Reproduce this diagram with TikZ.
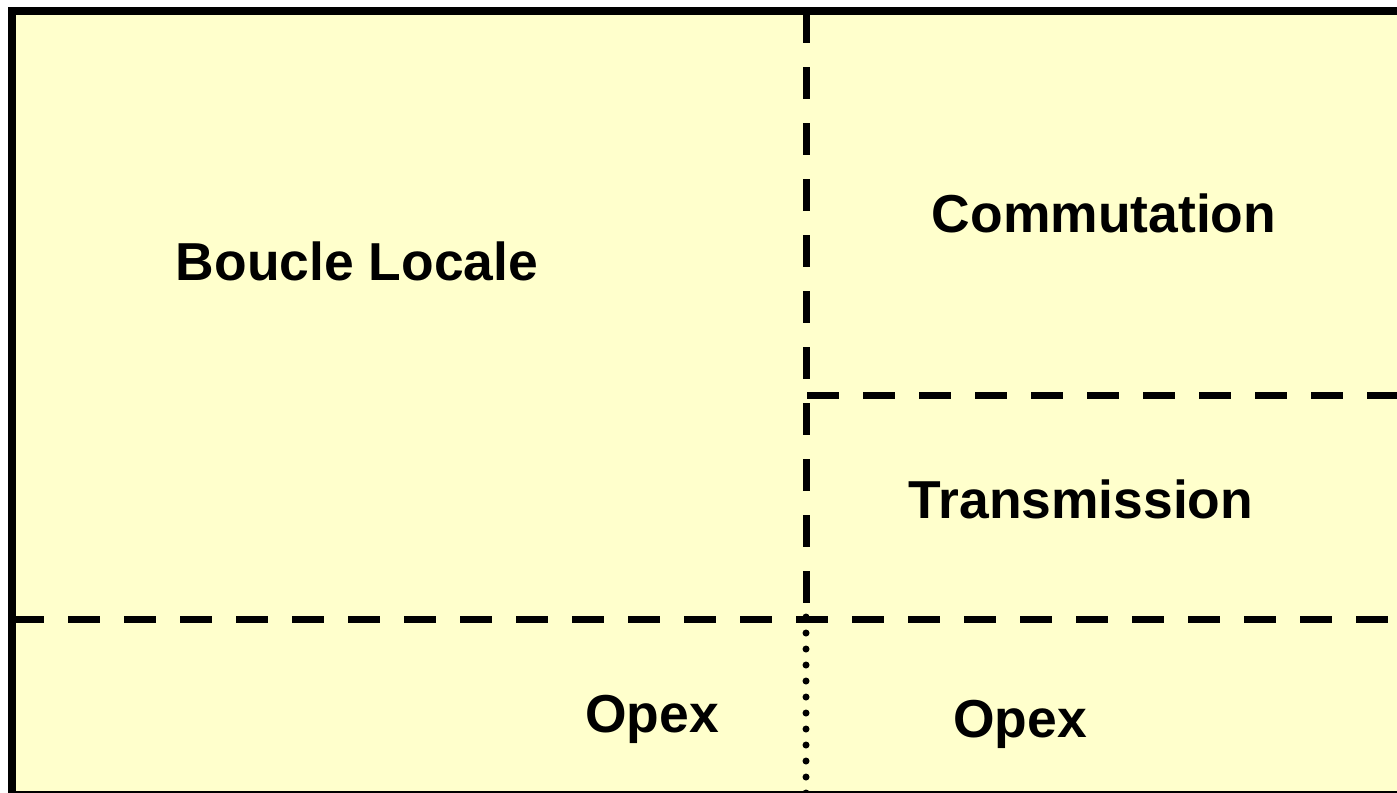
\documentclass[tikz,border=0pt]{standalone}
\usepackage{fontspec}
\setmainfont{Liberation Sans}
\usepackage{tikz}

\begin{document}
\begin{tikzpicture} [x=0.1mm, y=-0.1mm,
    label/.style = {font=\fontsize{15.2}{18}\selectfont\bfseries,
    anchor = base,
    inner sep = 0pt},
    cut/.style = {line width = 0.7mm,
    dash pattern = on 3.2mm off 2.4mm},
    dots/.style = {line width = 0.7mm,
    line cap = round,
    dash pattern = on 0pt off 1.6mm}]

\useasboundingbox (0,0) rectangle (1397,792);
\clip (0,0) rectangle (1397,792);

\draw [line width = 0.8mm, fill={rgb,255:red,255;green,255;blue,204}]
  (12,11) rectangle (1405,795);

\draw [cut] (806,11) -- (806,619);
\draw [cut] (807,395) -- (1397,395);
\draw [cut] (12,619) -- (1397,619);
\draw [dots] (806,617) -- (806,800);

\node (boucle) at (357,280) [label] {Boucle Locale};
\node (commut) at (1104,232) [label] {Commutation};
\node (trans) at (1081,518) [label] {Transmission};
\node (opexA) at (652,732) [label] {Opex};
\node (opexB) at (1020,737) [label] {Opex};

\end{tikzpicture}
\end{document}
